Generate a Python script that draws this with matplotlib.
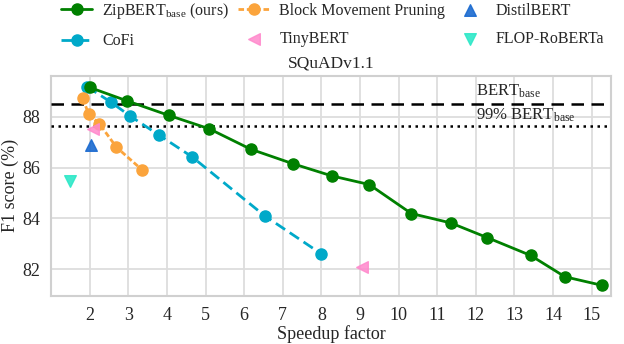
import matplotlib
matplotlib.use("Agg")
import matplotlib.pyplot as plt
import seaborn as sns

# Daten
zip_x = [2.0, 2.97, 4.05, 5.1, 6.17, 7.26, 8.27, 9.24, 10.33, 11.35, 12.3, 13.42, 14.31, 15.28]
zip_y = [89.15, 88.62, 88.05, 87.52, 86.72, 86.15, 85.67, 85.33, 84.19, 83.82, 83.24, 82.54, 81.7, 81.36]

cofi_x = [1.93, 2.56, 3.05, 3.79, 4.65, 6.53, 8.0]
cofi_y = [89.18, 88.56, 88.02, 87.28, 86.42, 84.1, 82.6]

bmp_x = [1.82, 1.97, 2.25, 2.69, 3.36]
bmp_y = [88.72, 88.1, 87.72, 86.8, 85.9]

tiny_x = [2.08, 9.04]
tiny_y = [87.5, 82.1]

distil_x = [2.04]
distil_y = [86.9]

flop_x = [1.5]
flop_y = [85.45]

bert_base = 88.5
bert_99 = 87.62

x_ticks = list(range(2, 16))
y_ticks = [82, 84, 86, 88]

sns.set_theme(style="whitegrid")
plt.rcParams['font.family'] = ['Liberation Serif', 'DejaVu Serif']
plt.rcParams['mathtext.fontset'] = 'custom'
plt.rcParams['mathtext.rm'] = 'Liberation Serif'
plt.rcParams['mathtext.it'] = 'Liberation Serif:italic'

fig = plt.figure(figsize=(6.24, 3.44), dpi=100)
ax = fig.add_axes([0.082, 0.14, 0.897, 0.639])

ax.plot(zip_x, zip_y, color='green', marker='o', markersize=8, linewidth=2,
        label=r'ZipBERT$_{\mathrm{base}}$ (ours)', zorder=5)
ax.plot(cofi_x, cofi_y, color='#00a9c9', marker='o', markersize=8, linewidth=2,
        linestyle=(0, (4, 2)), label='CoFi', zorder=4)
ax.plot(bmp_x, bmp_y, color='#fba43c', marker='o', markersize=8, linewidth=2,
        linestyle=(0, (2, 1)), label='Block Movement Pruning', zorder=4)
ax.scatter(tiny_x, tiny_y, color='#ff88cc', marker='<', s=70, alpha=0.85,
           label='TinyBERT', zorder=6)
ax.scatter(distil_x, distil_y, color='#1a6ad0', marker='^', s=70, alpha=0.9,
           label='DistilBERT', zorder=6)
ax.scatter(flop_x, flop_y, color='#2ee8c8', marker='v', s=70, alpha=0.9,
           label='FLOP-RoBERTa', zorder=6)

ax.axhline(bert_base, color='black', linestyle=(0, (5, 3)), linewidth=1.8, zorder=3)
ax.axhline(bert_99, color='black', linestyle=(0, (1, 1.8)), linewidth=1.8, zorder=3)
ax.text(12.0, bert_base + 0.15, r'BERT$_{\mathrm{base}}$', fontsize=12, va='bottom')
ax.text(12.0, bert_99 + 0.1, r'99% BERT$_{\mathrm{base}}$', fontsize=12, va='bottom')

ax.set_xlim(1.0, 15.5)
ax.set_ylim(80.95, 89.6)
ax.set_xticks(x_ticks)
ax.set_yticks(y_ticks)
ax.tick_params(labelsize=13, pad=2)
ax.set_xlabel('Speedup factor', fontsize=13, labelpad=1)
ax.set_ylabel('F1 score (%)', fontsize=13, labelpad=2)
ax.set_title('SQuADv1.1', fontsize=12.5, pad=6)

for s in ax.spines.values():
    s.set_color('#d0d0d0')
    s.set_linewidth(1.5)
ax.grid(color='#dddddd', linewidth=1.3)

fig.legend(loc='upper left', bbox_to_anchor=(0.074, 1.04), ncol=3, frameon=False,
           fontsize=11.5, columnspacing=0.55, handlelength=2.0, handletextpad=0.6,
           labelspacing=0.8)

fig.savefig('out.png', dpi=100)
